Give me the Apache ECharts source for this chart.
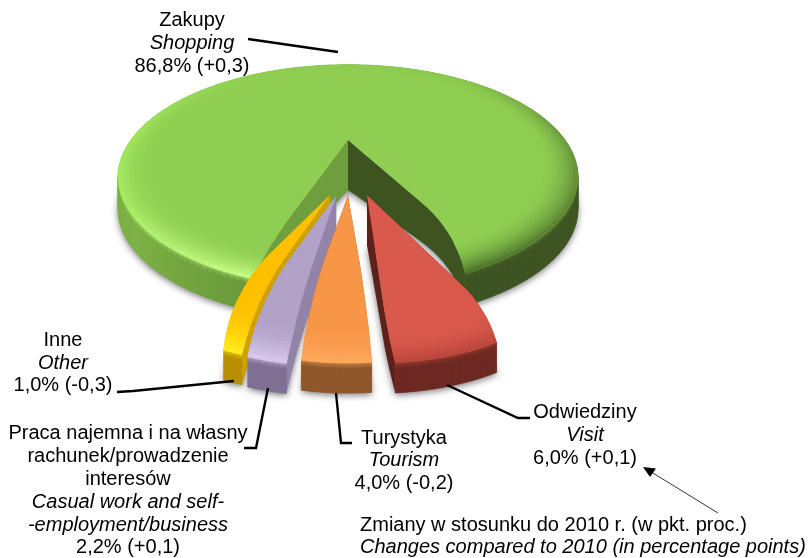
<!DOCTYPE html>
<html><head><meta charset="utf-8">
<style>html,body{margin:0;padding:0;background:#fff}#c{width:812px;height:558px}</style>
<script src="https://cdn.jsdelivr.net/npm/echarts@6/dist/echarts.min.js"></script>
</head><body><div id="c"></div>
<script>
// ---- data ----
const categoriesPl = ['Zakupy','Odwiedziny','Turystyka','Praca najemna i na własny rachunek/prowadzenie interesów','Inne'];
const categoriesEn = ['Shopping','Visit','Tourism','Casual work and self-employment/business','Other'];
const shares = [86.8,6.0,4.0,2.2,1.0];
const changes = ['+0,3','+0,1','-0,2','+0,1','-0,3'];
const noteLines = ['Zmiany w stosunku do 2010 r. (w pkt. proc.)','Changes compared to 2010 (in percentage points)'];

// ---- look ----
const FONT='"Liberation Sans",Arial,sans-serif';
const FS=20;
const CX=348,CY=140,RX=217,RY=100,P=0.33;
const START=199.1;
const looks=[
 {off:[0,0],R:1,skew:[0,0],bend:[-1.3,6.4],t0:.62,top:'#8FCE52',band:.15,z:0,
  rim:[[199,'#CBFF88'],[215,'#BCF67C'],[240,'#A8EC64'],[270,'#A2E85E'],[300,'#97DA58'],[330,'#8FCE52'],[400,'#8BC850'],[440,'#6F9D3F'],[490,'#587F31'],[512,'#4A7029']],
  wall:[[199,'#6A9A3A'],[230,'#7DB244'],[270,'#76AB40'],[360,'#5A8030'],[430,'#3F5620'],[512,'#3C5220']],
  wallA:'#6F9E3C',wallB:'#3D5420',h:[50,32]},
 {off:[.074,.466],R:.82,skew:[-.2,3.8],bend:[4.4,-.6],t0:.74,top:'#D9594C',band:.12,z:4,
  rim:[[0,'#B8463B'],[999,'#B8463B']],wall:[[0,'#6E2822'],[999,'#6E2822']],wallA:'#7A2A24',wallB:'#5E201B',h:[50,30]},
 {off:[0,.47],R:.815,skew:[1.4,3.8],bend:[1,-2.6],t0:.45,top:'#F79646',band:.18,z:3,
  rim:[[0,'#FFA95F'],[999,'#FFA95F']],wall:[[0,'#8F5629'],[999,'#8F5629']],wallA:'#9C5E2C',wallB:'#8F5629',h:[50,30]},
 {off:[-.046,.47],R:.825,skew:[2,5.5],bend:[-1.4,-5.3],t0:.5,top:'#B2A2C7',band:.18,z:2,
  rim:[[0,'#D9CAF0'],[999,'#D9CAF0']],wall:[[0,'#7F7093'],[999,'#7F7093']],wallA:'#9283A8',wallB:'#9283A8',h:[50,30]},
 {off:[-.07,.466],R:.82,skew:[4.5,9],bend:[-4.7,-9],t0:.5,top:'#FFC000',band:.22,z:1,
  rim:[[0,'#FFF020'],[999,'#FFF020']],wall:[[0,'#B98F00'],[999,'#B98F00']],wallA:'#D0A000',wallB:'#D0A000',h:[50,30]}
];
const labels=[
 {cx:192,ys:[20,43,66]},
 {cx:585,ys:[412,435,458]},
 {cx:404,ys:[438,460,483]},
 {cx:128,ys:[433,456,479,502,525,547],custom:['Praca najemna i na własny','rachunek/prowadzenie','interesów','Casual work and self-','-employment/business']},
 {cx:63,ys:[340,363,385]}
];
const leaders=[
 [[248,39],[338,52]],
 [[447,385],[518,418],[530,418]],
 [[336,393],[341,443],[352,443]],
 [[244,448],[256,448],[268,388]],
 [[117,392],[133,391],[234,381]]
];

function hex(c){return [1,3,5].map(i=>parseInt(c.substr(i,2),16));}
function toHex(a){return '#'+a.map(v=>Math.round(v).toString(16).padStart(2,'0')).join('');}
function mix(a,b,t){const A=hex(a),B=hex(b);return toHex(A.map((v,i)=>v+(B[i]-v)*t));}
function stopColor(st,a){
  for(let i=0;i<st.length-1;i++){
    if(a<=st[i+1][0]){const t=Math.max(0,(a-st[i][0])/(st[i+1][0]-st[i][0]));return mix(st[i][1],st[i+1][1],t);}
  }
  return st[st.length-1][1];
}
function proj(X,Y){const s=1/(1-P*Y);return [CX+RX*X*s,CY+RY*Y*s];}
function smooth(t,t0){const u=Math.max(0,Math.min(1,(t-t0)/(1-t0)));return Math.pow(u,1.5);}

function renderSlice(params,api){
  const idx=params.dataIndex, L=looks[idx];
  let acc=0; for(let i=0;i<idx;i++) acc+=shares[i];
  const a1=START+acc*3.6, a2=a1+api.value(0)*3.6;
  const pt=(t,deg)=>{const r=t*L.R,th=deg*Math.PI/180;return proj(L.off[0]+r*Math.sin(th),L.off[1]-r*Math.cos(th));};
  const ea=t=>a1+L.skew[0]+L.bend[0]*smooth(t,L.t0);
  const eb=t=>a2+L.skew[1]+L.bend[1]*smooth(t,L.t0);
  const hAt=t=>L.h[0]+(L.h[1]-L.h[0])*t;
  const down=(p,t)=>[p[0],p[1]+hAt(t)];
  const tsteps=[];for(let i=0;i<=24;i++)tsteps.push(i/24);
  const ang=(u,t)=>{const A=ea(t),B=eb(t);return A+(B-A)*u;};
  const N=Math.max(6,Math.round((a2-a1)/1.5));
  const us=[];for(let i=0;i<=N;i++)us.push(i/N);

  const kids=[];
  const rimTop=us.map(u=>pt(1,ang(u,1)));
  const rimBot=rimTop.map(p=>down(p,1));
  const edgeA=tsteps.map(t=>pt(t,ea(t))), edgeB=tsteps.map(t=>pt(t,eb(t)));
  const edgeAb=tsteps.map((t,i)=>down(edgeA[i],t)), edgeBb=tsteps.map((t,i)=>down(edgeB[i],t));

  kids.push({type:'polygon',shape:{points:edgeAb.concat(rimBot,edgeBb.slice().reverse())},
    style:{fill:'#888',shadowBlur:7,shadowColor:'rgba(0,0,0,0.55)',shadowOffsetY:2}});
  kids.push({type:'polygon',shape:{points:edgeA.concat(edgeAb.slice().reverse())},style:{fill:L.wallA}});
  kids.push({type:'polygon',shape:{points:edgeB.concat(edgeBb.slice().reverse())},style:{fill:L.wallB}});
  for(let i=0;i<N;i++){
    const d=ang((us[i]+us[i+1])/2,1), w=stopColor(L.wall,d), r=stopColor(L.rim,d);
    const col=()=>({type:'linear',x:0,y:0,x2:0,y2:1,colorStops:[{offset:0,color:mix(r,w,.5)},{offset:.2,color:w},{offset:1,color:w}]});
    kids.push({type:'polygon',shape:{points:[rimTop[i],rimTop[i+1],rimBot[i+1],rimBot[i]]},
      style:{fill:col(),stroke:col(),lineWidth:.7}});
  }
  const topPts=[pt(0,ea(0))].concat(edgeA.slice(1),rimTop,edgeB.slice(1).reverse());
  kids.push({type:'polygon',shape:{points:topPts},style:{fill:L.top}});
  const B=10,t1=1-L.band;
  for(let b=0;b<B;b++){
    const ta=t1+(1-t1)*b/B, tb=t1+(1-t1)*(b+1)/B, k=(b+.5)/B;
    for(let i=0;i<N;i++){
      const mid=ang((us[i]+us[i+1])/2,tb), c=mix(L.top,stopColor(L.rim,mid),k*k);
      kids.push({type:'polygon',shape:{points:[pt(ta,ang(us[i],ta)),pt(ta,ang(us[i+1],ta)),pt(tb,ang(us[i+1],tb)),pt(tb,ang(us[i],tb))]},
        style:{fill:c,stroke:c,lineWidth:.6}});
    }
  }
  kids.forEach(k=>{k.z2=L.z;});
  return {type:'group',children:kids};
}

const graphics=[];
const txt=(s,x,y,italic,align)=>graphics.push({type:'text',silent:true,z:10,style:{text:s,x:x,y:y,fill:'#000',
  font:(italic?'italic ':'')+FS+'px '+FONT,textAlign:align||'center',textVerticalAlign:'middle'}});
labels.forEach((l,i)=>{
  const val=shares[i].toFixed(1).replace('.',',')+'% ('+changes[i]+')';
  if(l.custom){
    l.custom.forEach((s,k)=>txt(s,l.cx,l.ys[k],k>=3));
    txt(val,l.cx,l.ys[5],false);
  }else{
    txt(categoriesPl[i],l.cx,l.ys[0],false);
    txt(categoriesEn[i],l.cx,l.ys[1],true);
    txt(val,l.cx,l.ys[2],false);
  }
});
txt(noteLines[0],360,525,false,'left');
txt(noteLines[1],360,547,true,'left');
leaders.forEach(p=>graphics.push({type:'polyline',silent:true,z:9,shape:{points:p},style:{fill:null,stroke:'#000',lineWidth:2.4}}));
graphics.push({type:'line',silent:true,z:9,shape:{x1:718,y1:513,x2:648,y2:470},style:{stroke:'#000',lineWidth:.8}});
graphics.push({type:'polygon',silent:true,z:9,shape:{points:[[643,467],[656,468.5],[650,477]]},style:{fill:'#000'}});

const chart=echarts.init(document.getElementById('c'),null,{renderer:'canvas'});
chart.setOption({
  animation:false,
  backgroundColor:'#fff',
  series:[{type:'custom',coordinateSystem:'none',silent:true,renderItem:renderSlice,
    data:shares.map((v,i)=>({name:categoriesPl[i],value:[v]}))}],
  graphic:graphics
});
</script></body></html>
